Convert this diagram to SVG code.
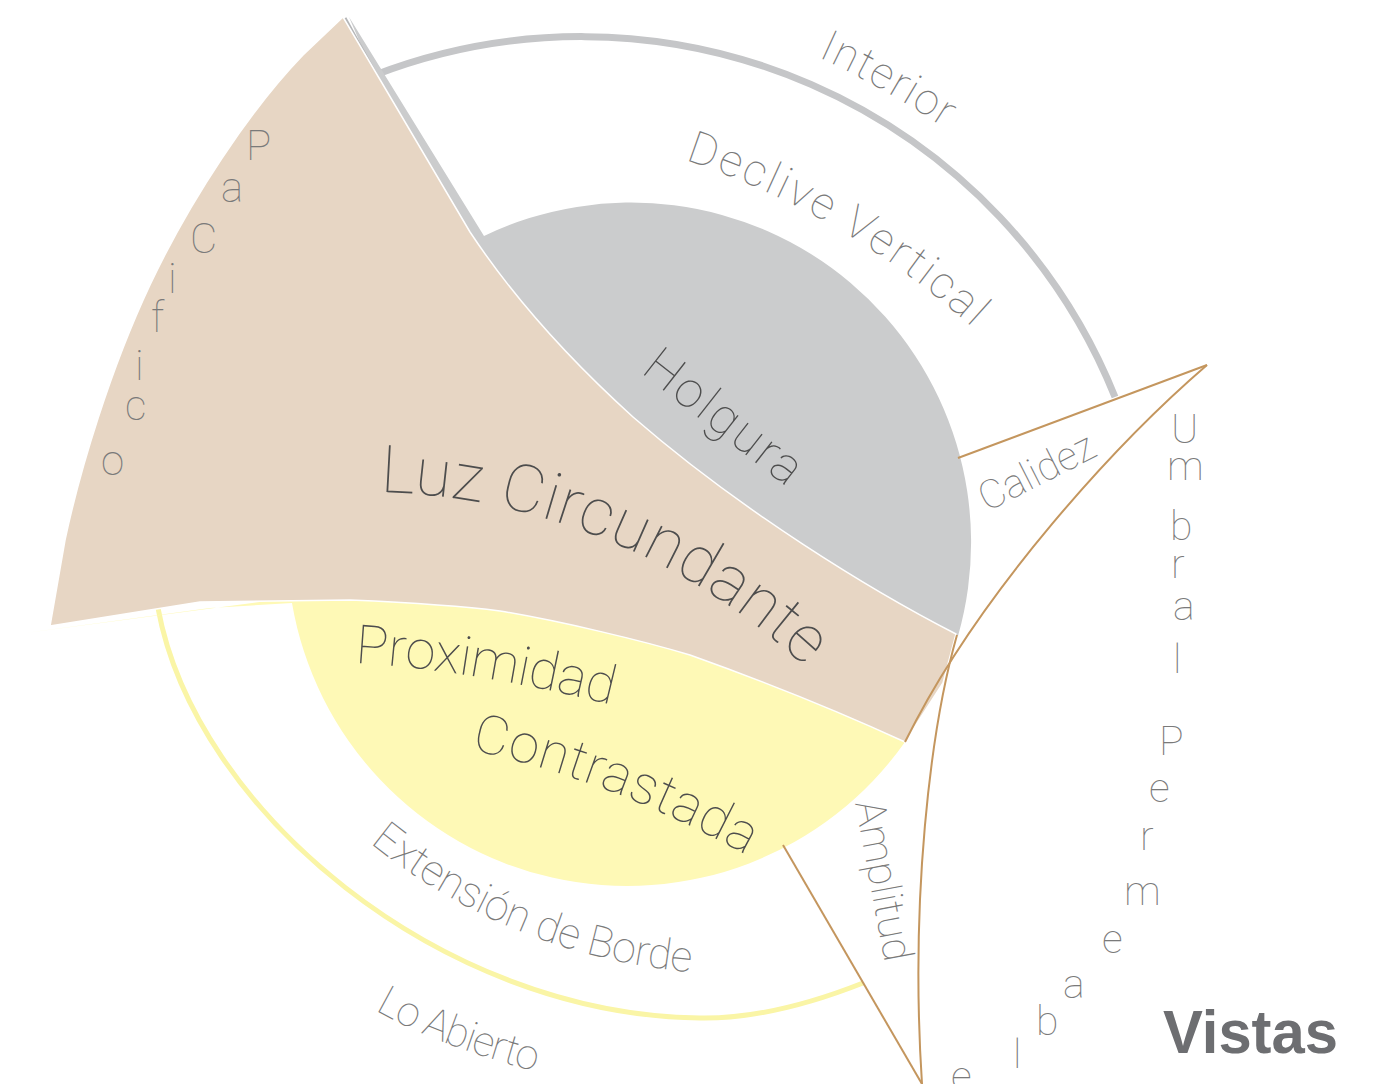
<svg xmlns="http://www.w3.org/2000/svg" width="1398" height="1084" viewBox="0 0 1398 1084">
<style>
.thin{font-family:Roboto,Lato,"DejaVu Sans",sans-serif;font-weight:100;}
.inner{fill:#4d4d4d;}
.outer{fill:#7a7a7a;}
.conn{fill:none;stroke:#c4965e;stroke-width:2;}
</style>
<defs>
<path id="pInterior" d="M 818,57 Q 885,87 970,145"/>
<path id="pDeclive" d="M 685,160 A 802 802 0 0 1 1047,405"/>
<path id="pHolgura" d="M 640,372 L 821,514"/>
<path id="pLuz" d="M 380,492 A 649 649 0 0 1 859,724"/>
<path id="pProx" d="M 355,663 Q 480,670 640,712"/>
<path id="pContr" d="M 471,750 Q 631,784 780,875"/>
<path id="pCalidez" d="M 987,512 L 1121,444"/>
<path id="pAmplitud" d="M 855,803 L 890,990"/>
<path id="pExt" d="M 370,843 A 591 591 0 0 0 792,972"/>
<path id="pLo" d="M 375,1010 Q 446,1051 570,1080"/>
</defs>
<rect width="1398" height="1084" fill="#ffffff"/>

<g id="interior">
<path d="M 375,75 A 575 575 0 0 1 1115,397" fill="none" stroke="#c5c6c8" stroke-width="7"/>
<text class="thin outer" font-size="44"><textPath href="#pInterior" textLength="145" lengthAdjust="spacing">Interior</textPath></text>
</g>

<g id="extension-de-borde">
<path d="M 158,608 C 195,810 440,1015 700,1018 C 760,1019 820,1000 863,983" fill="none" stroke="#faf5a6" stroke-width="5"/>
<text class="thin outer" font-size="43"><textPath href="#pExt" textLength="351" lengthAdjust="spacing">Extensión de Borde</textPath></text>
</g>

<g id="holgura">
<path d="M 349,17 L 484,236 A 340 340 0 0 1 958,636 L 700,500 L 470,300 Z" fill="#cbcccd"/>
<path d="M 345,18 L 378,78" stroke="#b5b6b8" stroke-width="3" fill="none"/>
</g>

<g id="proximidad-contrastada">
<path d="M 25,633 L 210,608 L 292,603 A 340 340 0 0 0 905,742 L 700,600 L 350,590 Z" fill="#fef9b6"/>
</g>

<g id="luz-circundante">
<path d="M 343,17 L 303,55 C 250,110 190,200 150,285 C 110,370 80,470 65,540 L 50,626 L 200,602 L 350,600 C 420,603 470,607 500,611 C 560,621 640,640 690,655 C 760,680 840,712 905,742 L 943,683 L 956,634 C 870,590 740,510 633,417 C 570,360 515,300 470,232 Z" fill="#e7d6c4" stroke="#ffffff" stroke-width="1.5" stroke-linejoin="round"/>
<text class="thin inner" font-size="66"><textPath href="#pLuz" textLength="470" lengthAdjust="spacing">Luz Circundante</textPath></text>
</g>

<g id="holgura-label">
<text class="thin inner" font-size="50"><textPath href="#pHolgura" textLength="187" lengthAdjust="spacing">Holgura</textPath></text>
</g>

<g id="proximidad-label">
<text class="thin inner" font-size="54"><textPath href="#pProx" textLength="260" lengthAdjust="spacing">Proximidad</textPath></text>
<text class="thin inner" font-size="54"><textPath href="#pContr" textLength="296" lengthAdjust="spacing">Contrastada</textPath></text>
</g>

<g id="declive-vertical">
<text class="thin outer" font-size="45"><textPath href="#pDeclive" textLength="335" lengthAdjust="spacing">Declive Vertical</textPath></text>
</g>

<g id="connectors">
<path class="conn" d="M 958,458 L 1207,365"/>
<path class="conn" d="M 1207,365 C 1120,440 980,590 905,742"/>
<path class="conn" d="M 957,635 C 930,730 910,900 922,1084"/>
<path class="conn" d="M 783,845 L 922,1084"/>
</g>

<g id="calidez">
<text class="thin outer" font-size="40"><textPath href="#pCalidez" textLength="125" lengthAdjust="spacing">Calidez</textPath></text>
</g>

<g id="amplitud">
<text class="thin outer" font-size="42"><textPath href="#pAmplitud" textLength="163" lengthAdjust="spacing">Amplitud</textPath></text>
</g>

<g id="lo-abierto">
<text class="thin outer" font-size="42"><textPath href="#pLo" textLength="172" lengthAdjust="spacing">Lo Abierto</textPath></text>
</g>

<g id="umbral-permeable">
<text class="thin outer" font-size="41" x="1171 1167 1170 1171 1173 1173 1170 1159 1149 1140 1124 1102 1063 1036 1013 951" y="443 480 540 578 620 673 700 755 802 850 905 953 998 1035 1068 1090">Umbral Permeable</text>
</g>

<g id="pacifico">
<text class="thin outer" font-size="42" x="246 221 190 168 151 135 125 101" y="160 202 253 293 332 380 420 475">PaCifico</text>
</g>

<g id="vistas">
<text x="1163" y="1053" font-family="'Liberation Sans',Arial,sans-serif" font-weight="bold" font-size="62" fill="#6d6e71" textLength="175" lengthAdjust="spacingAndGlyphs">Vistas</text>
</g>
</svg>
